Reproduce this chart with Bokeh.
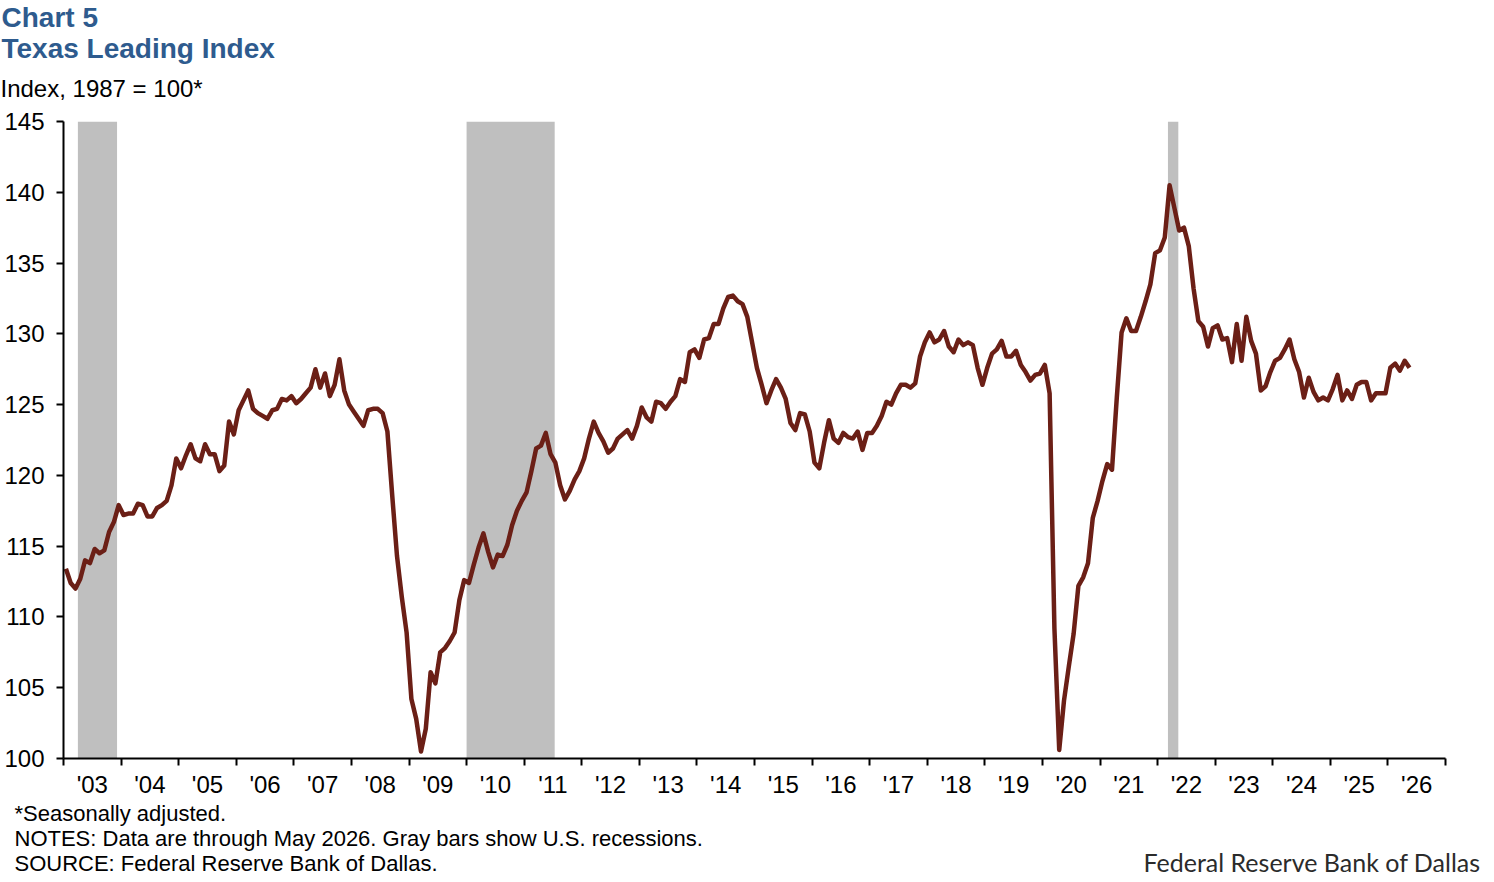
import pandas as pd
from bokeh.plotting import figure
from bokeh.layouts import column
from bokeh.models import Range1d, FixedTicker, Label, ColumnDataSource
from bokeh.embed import file_html
from bokeh.resources import INLINE

# Texas Leading Index, monthly, seasonally adjusted (1987 = 100)
tli_2003 = [113.4, 112.4, 112.0, 112.7, 114.0, 113.8, 114.8, 114.5, 114.7, 116.0, 116.7, 117.9]
tli_2004 = [117.2, 117.3, 117.3, 118.0, 117.9, 117.1, 117.1, 117.7, 117.9, 118.2, 119.3, 121.2]
tli_2005 = [120.5, 121.4, 122.2, 121.2, 121.0, 122.2, 121.5, 121.5, 120.3, 120.7, 123.8, 122.9]
tli_2006 = [124.6, 125.3, 126.0, 124.7, 124.4, 124.2, 124.0, 124.6, 124.7, 125.4, 125.3, 125.6]
tli_2007 = [125.1, 125.4, 125.8, 126.2, 127.5, 126.2, 127.2, 125.6, 126.4, 128.2, 126.0, 125.0]
tli_2008 = [124.5, 124.0, 123.5, 124.6, 124.7, 124.7, 124.4, 123.1, 118.6, 114.3, 111.4, 108.9]
tli_2009 = [104.2, 102.8, 100.5, 102.1, 106.1, 105.3, 107.5, 107.8, 108.3, 108.9, 111.2, 112.6]
tli_2010 = [112.4, 113.7, 114.9, 115.9, 114.6, 113.5, 114.4, 114.3, 115.1, 116.5, 117.5, 118.2]
tli_2011 = [118.8, 120.3, 121.9, 122.1, 123.0, 121.5, 120.9, 119.3, 118.3, 118.9, 119.7, 120.3]
tli_2012 = [121.2, 122.6, 123.8, 123.0, 122.4, 121.6, 121.9, 122.6, 122.9, 123.2, 122.6, 123.5]
tli_2013 = [124.8, 124.1, 123.8, 125.2, 125.1, 124.7, 125.2, 125.6, 126.8, 126.6, 128.7, 128.9]
tli_2014 = [128.3, 129.6, 129.7, 130.7, 130.7, 131.8, 132.6, 132.7, 132.3, 132.1, 131.2, 129.4]
tli_2015 = [127.6, 126.4, 125.1, 126.0, 126.8, 126.2, 125.4, 123.7, 123.2, 124.4, 124.3, 123.1]
tli_2016 = [120.9, 120.5, 122.3, 123.9, 122.6, 122.3, 123.0, 122.7, 122.6, 123.1, 121.8, 123.0]
tli_2017 = [123.0, 123.5, 124.2, 125.2, 125.0, 125.8, 126.4, 126.4, 126.2, 126.5, 128.4, 129.4]
tli_2018 = [130.1, 129.4, 129.6, 130.2, 129.1, 128.7, 129.6, 129.2, 129.4, 129.2, 127.6, 126.4]
tli_2019 = [127.6, 128.6, 128.9, 129.5, 128.4, 128.4, 128.8, 127.8, 127.3, 126.7, 127.1, 127.2]
tli_2020 = [127.8, 125.8, 109.2, 100.6, 104.1, 106.5, 108.8, 112.2, 112.8, 113.8, 117.0, 118.2]
tli_2021 = [119.6, 120.8, 120.4, 125.5, 130.1, 131.1, 130.2, 130.2, 131.2, 132.3, 133.5, 135.7]
tli_2022 = [135.9, 136.8, 140.5, 138.9, 137.3, 137.5, 136.2, 133.2, 130.9, 130.5, 129.1, 130.4]
tli_2023 = [130.6, 129.6, 129.7, 128.0, 130.7, 128.1, 131.2, 129.5, 128.6, 126.0, 126.3, 127.3]
tli_2024 = [128.1, 128.3, 128.9, 129.6, 128.2, 127.3, 125.5, 126.9, 125.9, 125.3, 125.5, 125.3]
tli_2025 = [126.1, 127.1, 125.3, 126.0, 125.4, 126.4, 126.6, 126.6, 125.3, 125.8, 125.8, 125.8]
tli_2026 = [127.6, 127.9, 127.4, 128.1, 127.6]

# Shaded recession periods (decimal years)
recession_start = [2003.25, 2010.00, 2022.18]
recession_end = [2003.93, 2011.53, 2022.36]

# Axis setup
year_edges = list(range(2003, 2028))
year_labels = ["'03", "'04", "'05", "'06", "'07", "'08", "'09", "'10", "'11", "'12", "'13", "'14",
               "'15", "'16", "'17", "'18", "'19", "'20", "'21", "'22", "'23", "'24", "'25", "'26"]
y_ticks = [100, 105, 110, 115, 120, 125, 130, 135, 140, 145]

tli = (tli_2003 + tli_2004 + tli_2005 + tli_2006 + tli_2007 + tli_2008 + tli_2009 + tli_2010 +
       tli_2011 + tli_2012 + tli_2013 + tli_2014 + tli_2015 + tli_2016 + tli_2017 + tli_2018 +
       tli_2019 + tli_2020 + tli_2021 + tli_2022 + tli_2023 + tli_2024 + tli_2025 + tli_2026)
months = pd.date_range("2003-01-01", periods=len(tli), freq="MS")
month_x = list(months.year + (months.month - 0.5) / 12.0)

X0, X1 = year_edges[0], year_edges[-1]
Y0, Y1 = y_ticks[0], y_ticks[-1]

FONT = "Liberation Sans"
BLUE = "#2E5B8E"
W = 1494
HEADER_H = 104          # title block
FOOTER_H = 82           # notes block
MAIN_H = 882 - HEADER_H - FOOTER_H
LEFT, RIGHT = 63, 1445  # plot frame, horizontal
FRAME_TOP, FRAME_BOTTOM = 121, 759  # plot frame, vertical (page pixels)
BASELINE_SHIFT = 8      # Label baselines sit this much below the requested y


def text_panel(height):
    """A blank figure whose data coordinates equal its own pixels."""
    f = figure(width=W, height=height, x_range=Range1d(0, W), y_range=Range1d(height, 0),
               output_backend="svg", toolbar_location=None, title=None,
               x_axis_type=None, y_axis_type=None, frame_align=False,
               min_border=0, min_border_left=0, min_border_right=0,
               min_border_top=0, min_border_bottom=0)
    f.outline_line_color = None
    f.xgrid.visible = False
    f.ygrid.visible = False
    f.background_fill_color = "white"
    f.border_fill_color = "white"
    return f


def add_text(f, text, x, y, size, color="black", bold=False, font=FONT, align="left"):
    f.add_layout(Label(x=x, y=y - BASELINE_SHIFT, text=text, text_font=font, text_font_size=size,
                       text_color=color, text_font_style="bold" if bold else "normal",
                       text_align=align, text_baseline="alphabetic"))


# --- header ---
header = text_panel(HEADER_H)
add_text(header, "Chart 5", 1, 25, "28px", BLUE, bold=True)
add_text(header, "Texas Leading Index", 1, 56, "28px", BLUE, bold=True)
add_text(header, "Index, 1987 = 100*", 0, 96, "24px")

# --- main chart ---
p = figure(width=W, height=MAIN_H, x_range=Range1d(X0, X1), y_range=Range1d(Y0, Y1),
           output_backend="svg", toolbar_location=None, title=None, frame_align=False,
           min_border_left=LEFT, min_border_right=W - RIGHT,
           min_border_top=FRAME_TOP - HEADER_H,
           min_border_bottom=HEADER_H + MAIN_H - FRAME_BOTTOM)
p.outline_line_color = None
p.background_fill_color = "white"
p.border_fill_color = "white"
p.xgrid.visible = False
p.ygrid.visible = False

# recession shading
rec_src = ColumnDataSource(dict(left=recession_start, right=recession_end,
                                bottom=[Y0] * len(recession_start), top=[Y1] * len(recession_start)))
p.quad(left="left", right="right", bottom="bottom", top="top", source=rec_src,
       fill_color="#BFBFBF", line_color=None)

# index line
p.line(month_x, tli, line_color="#6B1F16", line_width=4.5, line_join="round")

# x axis: year boundaries as minor ticks, year labels centered between them
label_pos = [y + 0.5 for y in year_edges[:-1]]
xa = p.xaxis[0]
xa.ticker = FixedTicker(ticks=label_pos, minor_ticks=year_edges)
xa.major_label_overrides = {pos: lab for pos, lab in zip(label_pos, year_labels)}
xa.major_tick_out = 0
xa.major_tick_in = 0
xa.minor_tick_out = 7
xa.minor_tick_in = 0
xa.minor_tick_line_width = 2
xa.minor_tick_line_color = "black"
xa.axis_line_width = 2
xa.axis_line_color = "black"
xa.major_label_text_font = FONT
xa.major_label_text_font_size = "24px"
xa.major_label_text_color = "black"
xa.major_label_standoff = 5

ya = p.yaxis[0]
ya.ticker = FixedTicker(ticks=y_ticks, minor_ticks=[])
ya.major_tick_out = 7
ya.major_tick_in = 0
ya.major_tick_line_width = 2
ya.minor_tick_out = 0
ya.minor_tick_in = 0
ya.axis_line_width = 2
ya.axis_line_color = "black"
ya.major_label_text_font = FONT
ya.major_label_text_font_size = "24px"
ya.major_label_text_color = "black"
ya.major_label_standoff = 12

# --- footer ---
footer = text_panel(FOOTER_H)
top = HEADER_H + MAIN_H
add_text(footer, "*Seasonally adjusted.", 14, 821 - top, "22px")
add_text(footer, "NOTES: Data are through May 2026. Gray bars show U.S. recessions.", 14, 846 - top, "22px")
add_text(footer, "SOURCE: Federal Reserve Bank of Dallas.", 14, 871 - top, "22px")
add_text(footer, "Federal Reserve Bank of Dallas", 1480, 869 - top, "25px", "#2b2b2b", font="Lato", align="right")

layout = column(header, p, footer, spacing=0)
open("out.html", "w").write(file_html(layout, INLINE))
